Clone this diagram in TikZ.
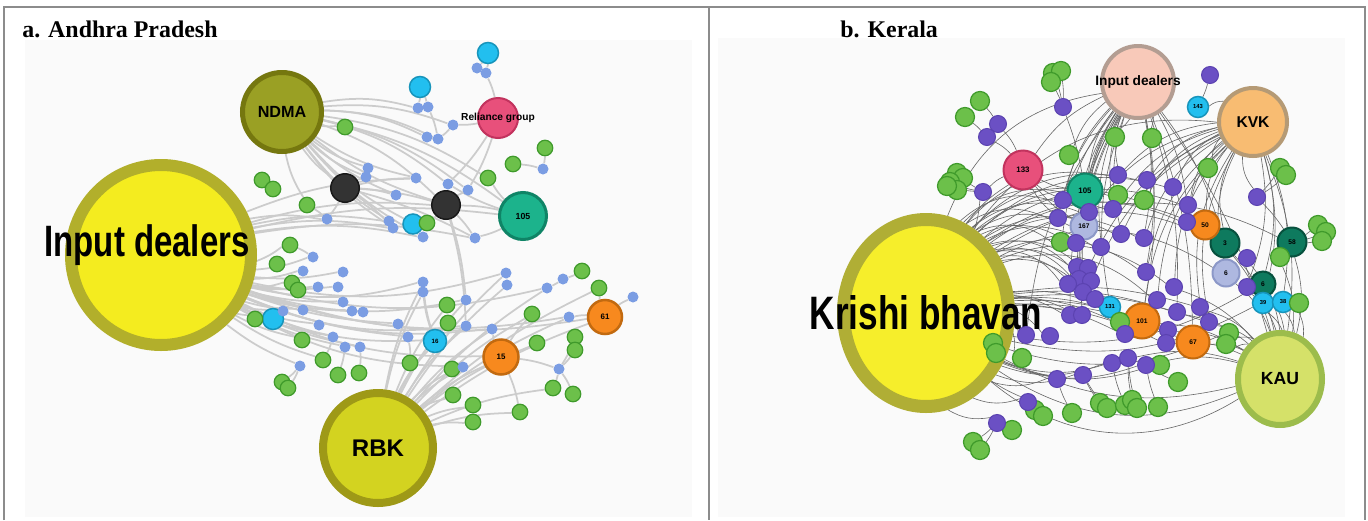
\documentclass[tikz,border=0pt]{standalone}
\usepackage{fontspec}
\setmainfont{Liberation Serif}
\newfontfamily\netfont[FakeStretch=0.75]{Liberation Sans}
\newfontfamily\tagfont{Liberation Sans}
\usetikzlibrary{shapes.geometric}
\pgfdeclarelayer{back}
\pgfdeclarelayer{wires}
\pgfsetlayers{back,wires,main}

\definecolor{dealyellow}{HTML}{F4EC1F}
\definecolor{dealring}{HTML}{B2AF2B}
\definecolor{ndmafill}{HTML}{9AA024}
\definecolor{ndmaring}{HTML}{75770F}
\definecolor{rbkfill}{HTML}{D3D320}
\definecolor{rbkring}{HTML}{9E9917}
\definecolor{pinkfill}{HTML}{E8507B}
\definecolor{pinkring}{HTML}{C2335E}
\definecolor{tealfill}{HTML}{1CB38C}
\definecolor{tealring}{HTML}{0F8466}
\definecolor{deepteal}{HTML}{0E7A5E}
\definecolor{deeptealring}{HTML}{07513E}
\definecolor{cyanfill}{HTML}{22BFEF}
\definecolor{cyanring}{HTML}{1794BB}
\definecolor{orangefill}{HTML}{F7891E}
\definecolor{orangering}{HTML}{C26A10}
\definecolor{lilac}{HTML}{AEB8E0}
\definecolor{lilacring}{HTML}{8C98C8}
\definecolor{leaf}{HTML}{6CC04A}
\definecolor{leafring}{HTML}{3F9A2B}
\definecolor{dotblue}{HTML}{7B9DE3}
\definecolor{dotpurple}{HTML}{6B50C4}
\definecolor{dotpurplering}{HTML}{5B42B0}
\definecolor{kbfill}{HTML}{F6EE2B}
\definecolor{kbring}{HTML}{B0AE35}
\definecolor{peach}{HTML}{F8C9B9}
\definecolor{peachring}{HTML}{B39D92}
\definecolor{kvkfill}{HTML}{F8BC72}
\definecolor{kvkring}{HTML}{B59A75}
\definecolor{kaufill}{HTML}{D5E169}
\definecolor{kauring}{HTML}{9CBC4C}

\tikzset{
  hub/.style 2 args={circle, inner sep=0pt, minimum size=#1, line width=#2},
  oval/.style n args={3}{ellipse, inner sep=0pt, minimum width=#1,
    minimum height=#2, line width=#3},
  gdot/.style={circle, inner sep=0pt, minimum size=3.1mm, fill=leaf,
    draw=leafring, line width=.25mm},
  gdotb/.style={gdot, minimum size=3.8mm},
  bdot/.style={circle, inner sep=0pt, minimum size=2.2mm, fill=dotblue},
  pdot/.style={circle, inner sep=0pt, minimum size=3.4mm, fill=dotpurple,
    draw=dotpurplering, line width=.2mm},
  wireA/.style={draw=black!20, line width=.35mm},
  wireB/.style={draw=black!60, line width=.12mm},
  bigtag/.style={font=\netfont\bfseries\fontsize{#1}{#1}\selectfont},
  numtag/.style={font=\tagfont\bfseries\fontsize{#1}{#1}\selectfont},
  headline/.style={font=\bfseries\fontsize{13.6}{16}\selectfont,
    anchor=base west, inner sep=0pt}
}

\begin{document}
\begin{tikzpicture}[x=0.2mm, y=-0.2mm]
\useasboundingbox (0,0) rectangle (1368,520);
\begin{pgfonlayer}{back}
\fill[black!2] (25,40) rectangle (692,517);
\fill[black!2] (718,38) rectangle (1345,517);
\end{pgfonlayer}
\draw[black!45, line width=.3mm] (4,520) -- (4,7) -- (1365,7) -- (1365,520);
\draw[black!45, line width=.3mm] (709,7) -- (709,520);

\node[headline] (titleA) at (22,37) {a. Andhra Pradesh};
\node[headline] (titleB) at (840,37) {b. Kerala};

% ---- a. Andhra Pradesh
\node[hub={36mm}{2.4mm}, fill=dealyellow, draw=dealring,
  label={[bigtag=25, xshift=-2.8mm, yshift=2mm]center:Input dealers}]
  (inA) at (161,255) {};
\node[hub={15.8mm}{1mm}, fill=ndmafill, draw=ndmaring,
  label={[numtag=9.2]center:NDMA}] (ndma) at (282,112) {};
\node[hub={22mm}{1.6mm}, fill=rbkfill, draw=rbkring,
  label={[numtag=13.7]center:RBK}] (rbk) at (378,448) {};
\node[hub={8mm}{.4mm}, fill=pinkfill, draw=pinkring,
  label={[numtag=5.8]center:Reliance group}] (rel) at (498,118) {};
\node[hub={9.4mm}{.6mm}, fill=tealfill, draw=tealring, numtag=5]
  (tA) at (523,216) {105};
\node[hub={5.7mm}{.3mm}, fill=black!80, draw=black!90] (k1) at (345,188) {};
\node[hub={5.7mm}{.3mm}, fill=black!80, draw=black!90] (k2) at (446,205) {};
\foreach \n/\x/\y/\s in {1/488/53/4.2mm, 2/420/87/4.2mm, 3/413/224/4mm,
    5/273/319/4.2mm}
  \node[hub={\s}{.3mm}, fill=cyanfill, draw=cyanring] (cA\n) at (\x,\y) {};
\node[hub={4.6mm}{.3mm}, fill=cyanfill, draw=cyanring, numtag=3.5]
  (cA4) at (435,341) {16};
\node[hub={7mm}{.5mm}, fill=orangefill, draw=orangering, numtag=4.5]
  (oA1) at (501,357) {15};
\node[hub={6.8mm}{.5mm}, fill=orangefill, draw=orangering, numtag=4.5]
  (oA2) at (605,317) {61};

\foreach \n/\x/\y in {1/345/127, 2/262/180, 3/273/189, 4/307/205,
    5/290/245, 6/277/264, 7/292/283, 8/298/290, 9/255/319, 10/302/340,
    11/323/360, 12/338/375, 13/359/373, 14/282/382, 15/288/388,
    16/410/363, 17/447/305, 18/448/323, 19/452/369, 20/453/395,
    21/473/405, 22/473/422, 23/488/178, 24/513/164, 25/545/148,
    26/427/223, 27/532/314, 28/537/343, 29/582/271, 30/599/288,
    31/575/337, 32/575/350, 33/553/388, 34/573/394, 35/520/412}
  \node[gdot] (gA\n) at (\x,\y) {};

\foreach \n/\x/\y in {1/477/68, 2/486/73, 3/418/108, 4/428/107,
    5/427/137, 6/438/139, 7/453/125, 8/543/169, 9/368/168, 10/366/177,
    11/416/178, 12/396/195, 13/448/184, 14/468/190, 15/327/219,
    16/389/221, 17/393/228, 18/423/237, 19/475/238, 20/313/257,
    21/303/271, 22/343/272, 23/318/287, 24/338/287, 25/343/302,
    26/352/311, 27/363/312, 28/303/310, 29/319/325, 30/333/337,
    31/345/347, 32/360/347, 33/300/366, 34/398/324, 35/408/337,
    36/423/282, 37/423/292, 38/466/300, 39/466/326, 40/492/329,
    41/463/367, 42/506/273, 43/507/285, 44/547/288, 45/563/279,
    46/633/297, 47/569/317, 48/559/369, 49/283/311}
  \node[bdot] (bA\n) at (\x,\y) {};

\begin{pgfonlayer}{wires}
\foreach \t in {bA20,bA21,bA22,bA23,bA24,bA25,bA26,bA27,bA28,bA29,bA30,
    bA31,bA32,bA33,bA34,bA35,cA5,gA5,gA7,gA10,gA11,bA49}
  \draw[wireA] (inA) to[bend right=8] (\t);
\foreach \t in {cA4,bA39,bA40,oA1,bA47,oA2,bA44,bA42,bA36,bA41,bA38}
  \draw[wireA] (inA) to[bend right=14] (\t);
\foreach \t in {bA16,bA18,k2,tA,bA19,bA11,bA15,bA17}
  \draw[wireA] (inA) to[bend left=10] (\t);
\foreach \t in {k1,k2,bA9,bA10,bA11,bA12,bA16,bA17,bA18,cA3,gA4}
  \draw[wireA] (ndma) to[bend right=10] (\t);
\foreach \t in {tA,k2,bA5,bA6,bA7,bA13,bA14,gA23,bA3}
  \draw[wireA] (ndma) to[bend left=12] (\t);
\foreach \t in {cA4,gA17,gA18,bA36,bA37,bA38,bA39,oA1,bA42,bA43,bA44,
    gA27,gA28,bA47,oA2,gA19,gA20,gA21,gA22,gA35,gA33,gA30,bA40,bA41}
  \draw[wireA] (rbk) to[bend left=8] (\t);
\foreach \a/\b in {cA2/bA3,cA2/bA4,bA4/bA6,cA1/bA1,cA1/bA2,bA2/rel,
    rel/bA7,bA7/bA6,bA6/bA5,rel/bA13,rel/bA14,k1/bA10,k1/bA11,k1/bA12,
    k1/k2,k1/bA15,k1/bA17,k1/bA19,k2/bA14,k2/tA,k2/gA26,k2/bA19,k2/bA38,
    k2/bA39,tA/gA23,tA/bA13,gA24/bA8,gA25/bA8,gA4/bA15,gA5/bA20,
    gA9/cA5,bA33/gA14,bA33/gA15,bA32/gA13,bA31/gA12,bA30/gA11,
    bA34/bA35,bA35/gA16,cA4/bA36,cA4/bA37,oA1/bA40,oA1/gA27,oA1/bA48,
    oA1/gA35,oA2/bA46,oA2/gA30,gA29/bA45,bA45/bA44,bA47/oA2,
    gA31/bA48,gA32/bA48,bA48/gA33,bA48/gA34,bA41/gA19,gA1/ndma,
    bA42/bA43,cA3/gA26,bA49/cA5,tA/bA19}
  \draw[wireA] (\a) to[bend left=6] (\b);
\end{pgfonlayer}

% ---- b. Kerala
\node[oval={33mm}{37.4mm}{2.6mm}, fill=kbfill, draw=kbring,
  label={[bigtag=26.7]center:Krishi bhavan}] (kb) at (926,313) {};
\node[hub={14.4mm}{.8mm}, fill=peach, draw=peachring,
  label={[numtag=7.8]center:Input dealers}] (idB) at (1138,82) {};
\node[hub={13.6mm}{.8mm}, fill=kvkfill, draw=kvkring,
  label={[numtag=8.9]center:KVK}] (kvk) at (1253,122) {};
\node[oval={16.8mm}{18.4mm}{1.2mm}, fill=kaufill, draw=kauring,
  label={[numtag=10]center:KAU}] (kau) at (1280,379) {};

\node[hub={7.8mm}{.4mm}, fill=pinkfill, draw=pinkring, numtag=4.5]
  (pk133) at (1023,170) {133};
\node[hub={7mm}{.4mm}, fill=tealfill, draw=tealring, numtag=4.5]
  (t105) at (1085,191) {105};
\foreach \n/\x/\y/\s/\t in {167/1084/226/5.4mm/167, 6/1226/273/5.4mm/6}
  \node[hub={\s}{.4mm}, fill=lilac, draw=lilacring, numtag=3.8]
    (l\n) at (\x,\y) {\t};
\foreach \n/\x/\y/\s/\t in {3/1225/243/5.8mm/3, 58/1292/242/5.8mm/58,
    6/1263/284/5mm/6}
  \node[hub={\s}{.4mm}, fill=deepteal, draw=deeptealring, numtag=3.8]
    (d\n) at (\x,\y) {\t};
\foreach \n/\x/\y in {39/1263/303, 38/1283/302, 143/1198/107, 131/1110/307}
  \node[hub={4.2mm}{.3mm}, fill=cyanfill, draw=cyanring, numtag=3.3]
    (c\n) at (\x,\y) {\n};
\foreach \n/\x/\y/\s in {50/1205/225/5.8mm, 101/1142/321/7mm,
    67/1193/342/6.6mm}
  \node[hub={\s}{.4mm}, fill=orangefill, draw=orangering, numtag=3.8]
    (o\n) at (\x,\y) {\n};

\foreach \n/\x/\y in {1/1053/73, 2/1061/71, 3/1051/82, 4/980/101,
    5/965/117, 6/957/173, 7/963/178, 8/950/182, 9/957/190, 10/947/186,
    11/1069/155, 12/1115/137, 13/1152/138, 14/1061/242, 15/1118/195,
    16/1144/200, 17/1208/168, 18/1280/168, 19/1286/175, 20/1318/225,
    21/1326/232, 22/1322/241, 23/1280/257, 24/1299/303, 25/1120/322,
    26/1229/333, 27/1226/344, 28/993/343, 29/996/353, 30/1022/358,
    31/1160/365, 32/1178/382, 33/1035/410, 34/1043/416, 35/1072/413,
    36/1100/403, 37/1107/408, 38/1125/405, 39/1132/400, 40/1137/408,
    41/1158/407, 42/1012/430, 43/973/442, 44/980/450}
  \node[gdotb] (gB\n) at (\x,\y) {};

\foreach \n/\x/\y in {1/1063/107, 2/998/124, 3/987/137, 4/983/192,
    5/1210/75, 6/1118/175, 7/1147/180, 8/1173/187, 9/1063/200,
    10/1058/218, 11/1089/212, 12/1076/243, 13/1113/209, 14/1121/234,
    15/1144/238, 16/1101/247, 17/1188/205, 18/1187/222, 19/1257/197,
    20/1247/258, 21/1247/287, 22/1077/267, 23/1088/268, 24/1079/279,
    25/1091/281, 26/1068/284, 27/1083/292, 28/1095/299, 29/1146/272,
    30/1174/287, 31/1157/300, 32/1200/307, 33/1177/312, 34/1209/322,
    35/1168/330, 36/1166/343, 37/1070/315, 38/1082/315, 39/1026/335,
    40/1050/336, 41/1125/334, 42/1057/379, 43/1083/375, 44/1112/363,
    45/1128/358, 46/1146/365, 47/1028/402, 48/997/423}
  \node[pdot] (pB\n) at (\x,\y) {};

\begin{pgfonlayer}{wires}
\foreach \t in {pB22,pB23,pB24,pB25,pB26,pB27,pB28,pB9,pB10,pB11,pB12,
    pB13,pB14,pB15,pB16,l167,t105,pB6,pB7,pB8,pB17,pB18,o50,d3,kvk,idB,
    gB14,gB15,gB16,pB29,pB30,pB31,l6,d58}
  \draw[wireB] (kb) to[bend left=30] (\t);
\foreach \t in {pB37,pB38,pB39,pB40,c131,o101,gB25,pB41,pB32,pB33,pB34,
    pB35,pB36,o67,gB28,gB30}
  \draw[wireB] (kb) to[bend left=12] (\t);
\foreach \t in {kau,pB42,pB43,pB44,pB45,pB46,gB31,pB47,pB48,gB26,d6,c39}
  \draw[wireB] (kb) to[bend right=20] (\t);
\foreach \b in {28,36}
  \draw[wireB] (kb) to[bend right=\b] (kau);
\foreach \t in {pB9,pB10,pB11,pB13,pB14,pB16,pB22,pB24,pB27,pB37,pB38,
    gB11,gB14,pk133,t105,l167,pB6,pB12,c131,pB39}
  \draw[wireB] (idB) to[bend right=15] (\t);
\foreach \t in {gB12,gB13,pB15,pB29,o101,pB33,o67,pB17,d3,kau}
  \draw[wireB] (idB) to[bend left=10] (\t);
\foreach \t in {pB17,pB18,o50,d3,pB8,pB7,pB15,pB29,pB30,pB31,pB13,pB14,
    l6,pB6,gB16,gB17,o101,pB32,pB34,pB11,pB23,pB25,c143,pB19}
  \draw[wireB] (kvk) to[bend right=20] (\t);
\foreach \t in {kau,d6,c39,c38,pB21}
  \draw[wireB] (kvk) to[bend left=15] (\t);
\foreach \t in {pB20,pB21,l6,d6,c39,c38,d58,gB23,gB24,o67,pB34,pB32,
    pB30,pB33,gB26,gB27,o50,d3,pB35,pB36,o101,pB46,pB45}
  \draw[wireB] (kau) to[bend right=15] (\t);
\foreach \t in {pB2,pB3,pB4,pB9,pB10,l167,t105,kb}
  \draw[wireB] (pk133) to[bend right=10] (\t);
\foreach \a/\b in {gB1/pB1,gB2/pB1,gB3/pB1,pB1/t105,gB4/pB2,gB5/pB3,
    pB4/gB6,pB4/gB8,pB4/gB10,pB4/kb,pB5/c143,gB18/pB19,gB19/pB19,
    pB19/d58,gB20/d58,gB21/d58,gB22/d58,gB24/c38,gB29/gB28,pB47/gB33,
    pB47/gB34,pB47/kb,pB48/gB42,pB48/gB43,pB48/gB44,gB35/pB42,
    gB36/pB43,gB37/pB43,gB38/pB44,gB39/pB45,gB40/pB45,gB41/pB46,
    gB32/pB46,pB42/kb,c131/gB25,l6/d3,d6/c39}
  \draw[wireB] (\a) to[bend left=5] (\b);
\end{pgfonlayer}
\end{tikzpicture}
\end{document}
